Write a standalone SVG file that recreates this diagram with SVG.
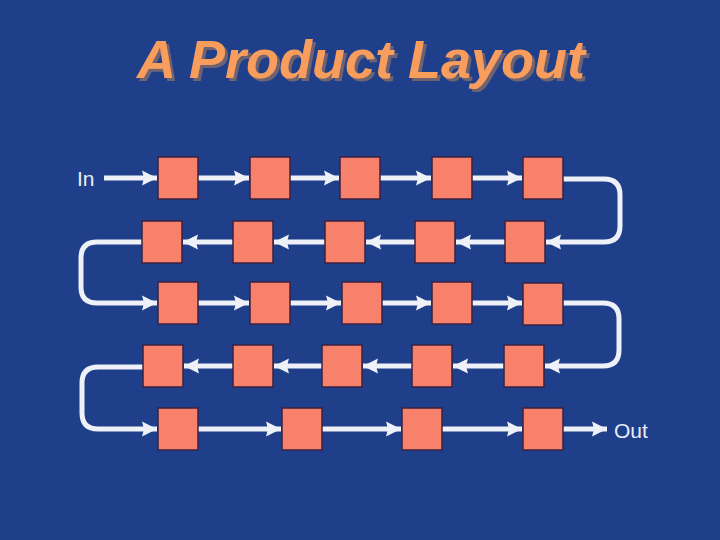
<svg xmlns="http://www.w3.org/2000/svg" width="720" height="540" viewBox="0 0 720 540">
<style>
.box{fill:#f7816a;stroke:#3b2142;stroke-width:1.5}
.c{fill:none;stroke:#eef1f8;stroke-width:5;stroke-linejoin:round}
.lbl{font-family:"Liberation Sans",Arial,sans-serif;font-size:21px;fill:#e8edf6}
.title{font-family:"Liberation Sans",Arial,sans-serif;font-size:54px;font-weight:bold;font-style:italic;text-anchor:middle}
</style>
<defs>
<marker id="ah" markerUnits="userSpaceOnUse" markerWidth="16" markerHeight="16" viewBox="0 0 16 16" refX="15" refY="8" orient="auto">
<path d="M0,0.5 L15,8 L0,15.5 L2,8 Z" fill="#eef1f8"/>
</marker>
<filter id="sh" x="-5%" y="-20%" width="110%" height="140%">
<feFlood flood-color="#6f6470"/>
<feComposite in2="SourceAlpha" operator="in"/>
<feOffset dx="3" dy="3" result="s"/>
<feMerge><feMergeNode in="s"/><feMergeNode in="SourceGraphic"/></feMerge>
</filter>
</defs>
<rect width="720" height="540" fill="#1f3f8b"/>
<text class="title" x="361" y="78" fill="#f89d5c" filter="url(#sh)">A Product Layout</text>
<text class="lbl" x="77" y="186">In</text>
<text class="lbl" x="614" y="438">Out</text>
<g id="connectors">
<path class="c" marker-end="url(#ah)" d="M104,178 H157"/>
<path class="c" marker-end="url(#ah)" d="M198,178 H249"/>
<path class="c" marker-end="url(#ah)" d="M290,178 H339"/>
<path class="c" marker-end="url(#ah)" d="M380,178 H431"/>
<path class="c" marker-end="url(#ah)" d="M472,178 H522"/>
<path class="c" marker-end="url(#ah)" d="M563,179 H604 Q620,179 620,195 V226 Q620,242 604,242 H546"/>
<path class="c" marker-end="url(#ah)" d="M505,242 H456"/>
<path class="c" marker-end="url(#ah)" d="M415,242 H366"/>
<path class="c" marker-end="url(#ah)" d="M325,242 H274"/>
<path class="c" marker-end="url(#ah)" d="M233,242 H183"/>
<path class="c" marker-end="url(#ah)" d="M142,242 H97 Q81,242 81,258 V287 Q81,303 97,303 H157"/>
<path class="c" marker-end="url(#ah)" d="M198,303 H249"/>
<path class="c" marker-end="url(#ah)" d="M290,303 H341"/>
<path class="c" marker-end="url(#ah)" d="M382,303 H431"/>
<path class="c" marker-end="url(#ah)" d="M472,303 H522"/>
<path class="c" marker-end="url(#ah)" d="M563,303 H603 Q619,303 619,319 V350 Q619,366 603,366 H545"/>
<path class="c" marker-end="url(#ah)" d="M504,366 H453"/>
<path class="c" marker-end="url(#ah)" d="M412,366 H363"/>
<path class="c" marker-end="url(#ah)" d="M322,366 H274"/>
<path class="c" marker-end="url(#ah)" d="M233,366 H184"/>
<path class="c" marker-end="url(#ah)" d="M143,367 H98 Q82,367 82,383 V413 Q82,429 98,429 H157"/>
<path class="c" marker-end="url(#ah)" d="M198,429 H281"/>
<path class="c" marker-end="url(#ah)" d="M322,429 H401"/>
<path class="c" marker-end="url(#ah)" d="M442,429 H522"/>
<path class="c" marker-end="url(#ah)" d="M563,429 H607"/>
</g>
<g id="r1b1"><rect class="box" x="158" y="157" width="40" height="42"/></g>
<g id="r1b2"><rect class="box" x="250" y="157" width="40" height="42"/></g>
<g id="r1b3"><rect class="box" x="340" y="157" width="40" height="42"/></g>
<g id="r1b4"><rect class="box" x="432" y="157" width="40" height="42"/></g>
<g id="r1b5"><rect class="box" x="523" y="157" width="40" height="42"/></g>
<g id="r2b1"><rect class="box" x="142" y="221" width="40" height="42"/></g>
<g id="r2b2"><rect class="box" x="233" y="221" width="40" height="42"/></g>
<g id="r2b3"><rect class="box" x="325" y="221" width="40" height="42"/></g>
<g id="r2b4"><rect class="box" x="415" y="221" width="40" height="42"/></g>
<g id="r2b5"><rect class="box" x="505" y="221" width="40" height="42"/></g>
<g id="r3b1"><rect class="box" x="158" y="282" width="40" height="42"/></g>
<g id="r3b2"><rect class="box" x="250" y="282" width="40" height="42"/></g>
<g id="r3b3"><rect class="box" x="342" y="282" width="40" height="42"/></g>
<g id="r3b4"><rect class="box" x="432" y="282" width="40" height="42"/></g>
<g id="r3b5"><rect class="box" x="523" y="283" width="40" height="42"/></g>
<g id="r4b1"><rect class="box" x="143" y="345" width="40" height="42"/></g>
<g id="r4b2"><rect class="box" x="233" y="345" width="40" height="42"/></g>
<g id="r4b3"><rect class="box" x="322" y="345" width="40" height="42"/></g>
<g id="r4b4"><rect class="box" x="412" y="345" width="40" height="42"/></g>
<g id="r4b5"><rect class="box" x="504" y="345" width="40" height="42"/></g>
<g id="r5b1"><rect class="box" x="158" y="408" width="40" height="42"/></g>
<g id="r5b2"><rect class="box" x="282" y="408" width="40" height="42"/></g>
<g id="r5b3"><rect class="box" x="402" y="408" width="40" height="42"/></g>
<g id="r5b4"><rect class="box" x="523" y="408" width="40" height="42"/></g>
</svg>
